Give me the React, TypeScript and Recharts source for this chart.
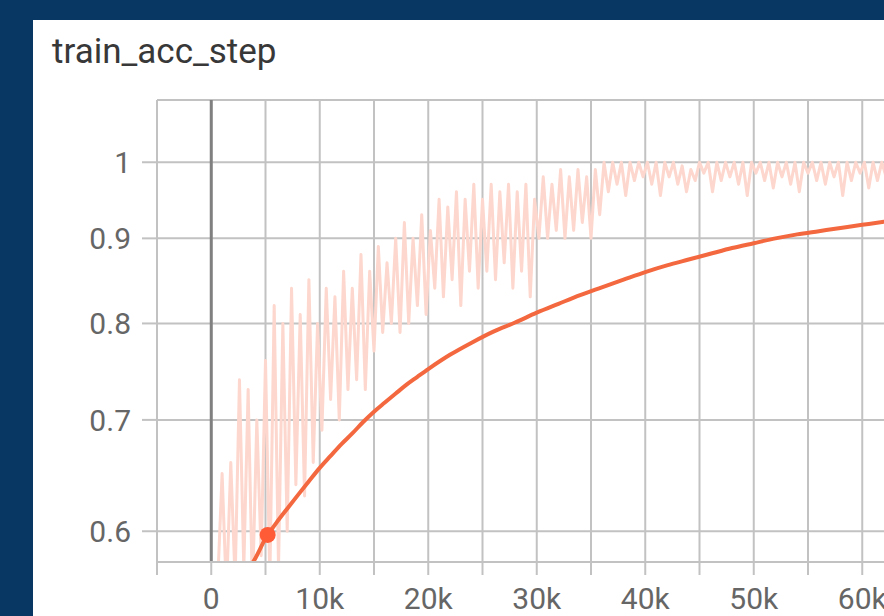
import { LineChart, Line, XAxis, YAxis, CartesianGrid, ReferenceLine, ReferenceDot } from "recharts";

// raw (unsmoothed) accuracy, one value every RAW_INTERVAL steps from RAW_START
const RAW_START = 600;
const RAW_INTERVAL = 400;
const rawAcc = [
  0.56, 0.65, 0.55, 0.66, 0.56, 0.74, 0.57, 0.73, 0.55, 0.7,
  0.58, 0.76, 0.56, 0.82, 0.57, 0.8, 0.6, 0.84, 0.64, 0.81,
  0.63, 0.85, 0.66, 0.8, 0.69, 0.84, 0.72, 0.83, 0.7, 0.86,
  0.73, 0.84, 0.74, 0.88, 0.73, 0.86, 0.77, 0.89, 0.79, 0.87,
  0.8, 0.9, 0.79, 0.92, 0.8, 0.9, 0.82, 0.93, 0.81, 0.91,
  0.84, 0.95, 0.83, 0.94, 0.85, 0.96, 0.82, 0.95, 0.86, 0.97,
  0.84, 0.95, 0.86, 0.97, 0.85, 0.96, 0.87, 0.97, 0.84, 0.96,
  0.86, 0.97, 0.83, 0.95, 0.9, 0.98, 0.9, 0.97, 0.91, 0.99,
  0.9, 0.98, 0.91, 0.99, 0.92, 0.98, 0.9, 0.99, 0.93, 1.0,
  0.96, 1.0, 0.97, 1.0, 0.955, 1.0, 0.975, 1.0, 0.98, 1.0,
  0.97, 1.0, 0.955, 1.0, 0.98, 1.0, 0.97, 0.995, 0.96, 0.99,
  0.975, 1.0, 0.985, 1.0, 0.96, 1.0, 0.975, 1.0, 0.98, 1.0,
  0.97, 1.0, 0.955, 1.0, 0.985, 1.0, 0.975, 1.0, 0.965, 1.0,
  0.98, 1.0, 0.97, 1.0, 0.96, 1.0, 0.985, 1.0, 0.975, 1.0,
  0.97, 1.0, 0.98, 1.0, 0.955, 1.0, 0.975, 1.0, 0.985, 1.0,
  0.965, 1.0, 0.975, 1.0, 0.98, 1.0, 0.96, 1.0, 0.975, 1.0,
  0.98, 1.0, 0.97, 1.0, 0.955, 1.0, 0.975, 1.0, 0.985, 1.0,
];

const smoothSteps = [
  3500, 4000, 5000, 6000, 7000, 8000, 9000, 10000, 11000, 12000, 13000, 14000,
  15000, 16000, 17000, 18000, 19000, 20000, 22000, 24000, 26000, 28000, 30000,
  32000, 34000, 36000, 38000, 40000, 42000, 44000, 46000, 48000, 50000, 52000,
  54000, 56000, 58000, 60000, 62000, 64000, 66000, 68000,
];
const smoothAcc = [
  0.57, 0.577, 0.594, 0.607, 0.619, 0.631, 0.643, 0.655, 0.666, 0.677, 0.687, 0.698,
  0.708, 0.717, 0.726, 0.735, 0.743, 0.751, 0.766, 0.779, 0.791, 0.801, 0.812,
  0.822, 0.832, 0.841, 0.85, 0.859, 0.867, 0.874, 0.881, 0.888, 0.894, 0.9,
  0.905, 0.909, 0.913, 0.917, 0.921, 0.925, 0.928, 0.931,
];

const xTicks = [-5000, 0, 5000, 10000, 15000, 20000, 25000, 30000, 35000, 40000, 45000, 50000, 55000, 60000, 65000, 70000, 75000];
const yTicks = [0.6, 0.7, 0.8, 0.9, 1];
const hoverPoint = { step: 5200, value: 0.597 };

const rawData = rawAcc.map((v, i) => ({ step: RAW_START + i * RAW_INTERVAL, value: v }));
const smoothData = smoothSteps.map((s, i) => ({ step: s, value: smoothAcc[i] }));

const GRID = "#c2c2c2";
const TICK_TEXT = { fill: "#666", fontSize: 30, fontFamily: "Roboto" };

const formatStep = (v: number) => {
  if (v % 10000 !== 0 || v > 60000) return "";
  return v === 0 ? "0" : `${v / 1000}k`;
};

export default function App() {
  return (
    <div
      style={{
        position: "absolute",
        left: 0,
        top: 0,
        width: 884,
        height: 616,
        background: "#083764",
        overflow: "hidden",
      }}
    >
      <div style={{ position: "absolute", left: 33, top: 20, width: 1000, height: 700, background: "#fff" }} />
      <div
        style={{
          position: "absolute",
          left: 52,
          top: 34,
          fontFamily: "Roboto",
          fontSize: 35,
          lineHeight: 1,
          color: "#383838",
          whiteSpace: "nowrap",
        }}
      >
        train_acc_step
      </div>
      <div style={{ position: "absolute", left: 0, top: 0 }}>
        <LineChart width={1025} height={616} margin={{ top: 100, right: 0, bottom: 0, left: 0 }}>
          <CartesianGrid stroke={GRID} strokeWidth={2} />
          <XAxis
            dataKey="step"
            type="number"
            domain={[-5000, 75000]}
            ticks={xTicks}
            interval={0}
            tickFormatter={formatStep}
            height={54}
            tickSize={13}
            tickMargin={13}
            tick={TICK_TEXT}
            tickLine={{ stroke: GRID, strokeWidth: 2 }}
            axisLine={{ stroke: GRID, strokeWidth: 2 }}
            allowDataOverflow
          />
          <YAxis
            dataKey="value"
            type="number"
            scale="log"
            domain={[0.575, 1.09]}
            ticks={yTicks}
            interval={0}
            width={157}
            tickSize={15}
            tickMargin={11}
            tick={TICK_TEXT}
            tickLine={{ stroke: GRID, strokeWidth: 2 }}
            axisLine={false}
            allowDataOverflow
          />
          <ReferenceLine x={0} stroke="#808080" strokeWidth={3} />
          <Line
            data={rawData}
            dataKey="value"
            type="linear"
            stroke="#fdd7cd"
            strokeWidth={3}
            strokeLinejoin="round"
            dot={false}
            isAnimationActive={false}
          />
          <Line
            data={smoothData}
            dataKey="value"
            type="monotone"
            stroke="#f4683f"
            strokeWidth={4}
            dot={false}
            isAnimationActive={false}
          />
          <ReferenceDot x={hoverPoint.step} y={hoverPoint.value} r={8} fill="#ff5b36" stroke="none" />
        </LineChart>
      </div>
    </div>
  );
}
